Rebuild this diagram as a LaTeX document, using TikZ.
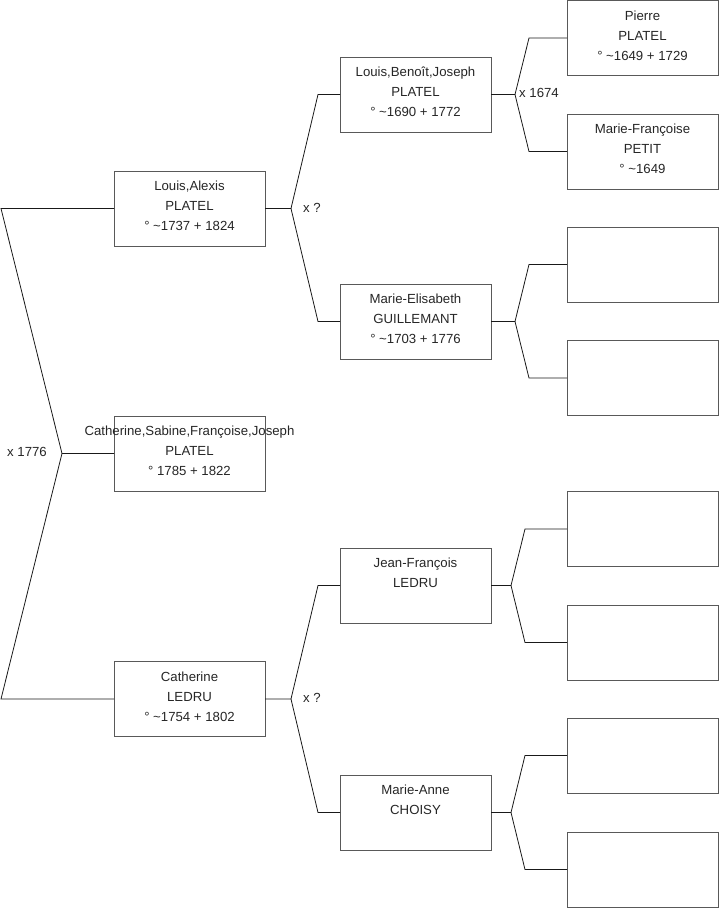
\documentclass[tikz,border=0pt]{standalone}
\usepackage{fontspec}
\setmainfont{Liberation Sans}

\tikzset{
  person/.style={draw=black!65, line width=0.9pt, minimum width=151pt,
    minimum height=75pt, inner sep=0pt, outer sep=0pt},
  who/.style={anchor=north, align=center, inner sep=0pt, yshift=-10pt,
    font=\fontsize{13.2}{20}\selectfont, text=black!85},
  wed/.style={font=\fontsize{13.2}{15}\selectfont, inner sep=0pt, text=black!85},
  link/.style={line width=0.8pt, black!90}
}

\begin{document}
\begin{tikzpicture}[x=1pt, y=-1pt]

  \useasboundingbox (0,0) rectangle (719,908);

  % generation 0
  \node[person, label={[who]north:{Catherine,Sabine,Françoise,Joseph\\PLATEL\\° 1785 + 1822}}] (g0) at (189.5,453.5) {};

  % parents
  \node[person, label={[who]north:{Louis,Alexis\\PLATEL\\° \textasciitilde1737 + 1824}}] (f) at (189.5,208.5) {};
  \node[person, label={[who]north:{Catherine\\LEDRU\\° \textasciitilde1754 + 1802}}] (m) at (189.5,699) {};

  % grand-parents
  \node[person, label={[who]north:{Louis,Benoît,Joseph\\PLATEL\\° \textasciitilde1690 + 1772}}] (ff) at (415.5,94.5) {};
  \node[person, label={[who]north:{Marie-Elisabeth\\GUILLEMANT\\° \textasciitilde1703 + 1776}}] (fm) at (415.5,321.5) {};
  \node[person, label={[who]north:{Jean-François\\LEDRU}}] (mf) at (415.5,585.5) {};
  \node[person, label={[who]north:{Marie-Anne\\CHOISY}}] (mm) at (415.5,812.5) {};

  % great-grand-parents
  \node[person, label={[who]north:{Pierre\\PLATEL\\° \textasciitilde1649 + 1729}}] (a1) at (642.5,38) {};
  \node[person, label={[who]north:{Marie-Françoise\\PETIT\\° \textasciitilde1649}}] (a2) at (642.5,151.5) {};
  \foreach \n/\y in {3/264.5, 4/378, 5/529, 6/642.5, 7/755.5, 8/869.5}
    \node[person] (a\n) at (642.5,\y) {};

  % forks
  \coordinate (j0) at (62,453.5);
  \draw[link] (g0.west) -- (j0) -- (1,208.5) -- (f.west);
  \draw[link] (j0) -- (1,699) -- (m.west);
  \node[wed, anchor=east] (w0) at (47,452) {x 1776};

  \coordinate (jf) at (291,208.5);
  \draw[link] (f.east) -- (jf) -- (318,94.5) -- (ff.west);
  \draw[link] (jf) -- (318,321.5) -- (fm.west);
  \node[wed, anchor=west] (wf) at (303,208) {x ?};

  \coordinate (jm) at (291,699);
  \draw[link] (m.east) -- (jm) -- (318,585.5) -- (mf.west);
  \draw[link] (jm) -- (318,812.5) -- (mm.west);
  \node[wed, anchor=west] (wm) at (303,698) {x ?};

  \coordinate (jff) at (515,94.5);
  \draw[link] (ff.east) -- (jff) -- (529,38) -- (a1.west);
  \draw[link] (jff) -- (529,151.5) -- (a2.west);
  \node[wed, anchor=west] (wff) at (519,93) {x 1674};

  \coordinate (jfm) at (515,321.5);
  \draw[link] (fm.east) -- (jfm) -- (529,264.5) -- (a3.west);
  \draw[link] (jfm) -- (529,378) -- (a4.west);

  \coordinate (jmf) at (511,585.5);
  \draw[link] (mf.east) -- (jmf) -- (525,529) -- (a5.west);
  \draw[link] (jmf) -- (525,642.5) -- (a6.west);

  \coordinate (jmm) at (511,812.5);
  \draw[link] (mm.east) -- (jmm) -- (525,755.5) -- (a7.west);
  \draw[link] (jmm) -- (525,869.5) -- (a8.west);

\end{tikzpicture}
\end{document}
